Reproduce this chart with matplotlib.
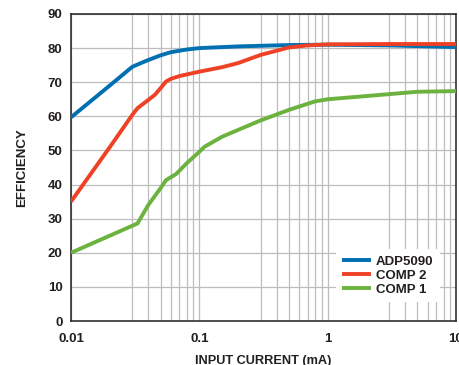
import matplotlib
matplotlib.use("Agg")
import matplotlib.pyplot as plt
import numpy as np
from matplotlib.ticker import FixedLocator, NullFormatter

plt.rcParams['font.family'] = ['Liberation Sans', 'DejaVu Sans']
plt.rcParams['font.weight'] = 'bold'

# Data (input current in mA, efficiency in %)
adp_x = [0.01, 0.02, 0.03, 0.035, 0.04, 0.05, 0.06, 0.08, 0.1, 0.2, 0.5, 1, 3, 10]
adp_y = [59.7, 69.0, 74.5, 75.6, 76.5, 77.9, 78.8, 79.6, 80.0, 80.5, 80.9, 81.0, 80.8, 80.3]

comp2_x = [0.01, 0.02, 0.03, 0.033, 0.04, 0.045, 0.05, 0.055, 0.06, 0.07, 0.1, 0.15, 0.2, 0.3, 0.5, 0.7, 1, 3, 10]
comp2_y = [35.0, 50.9, 60.4, 62.4, 64.8, 66.3, 68.3, 70.2, 71.0, 71.8, 73.1, 74.4, 75.6, 78.0, 80.2, 80.8, 81.1, 81.2, 81.2]

comp1_x = [0.01, 0.033, 0.04, 0.05, 0.055, 0.066, 0.08, 0.1, 0.11, 0.15, 0.2, 0.3, 0.5, 0.8, 1, 3, 5, 10]
comp1_y = [20.0, 28.6, 34.0, 39.0, 41.3, 43.1, 46.3, 49.6, 51.1, 54.0, 56.0, 58.8, 61.9, 64.4, 65.0, 66.5, 67.2, 67.4]

series_names = ["ADP5090", "COMP 2", "COMP 1"]
series_colors = ["#0070B2", "#EF4125", "#6BB23F"]

x_major = [0.01, 0.1, 1, 10]
x_major_labels = ["0.01", "0.1", "1", "10"]
x_minor = [m * d for d in [0.01, 0.1, 1] for m in [3, 4, 5, 6, 7, 8, 9]]
y_ticks = list(range(0, 91, 10))

fig = plt.figure(figsize=(4.6, 3.65), dpi=100)
ax = fig.add_axes([71/460, 44/365, (456-71)/460, (321-14)/365])

for xs, ys, name, col in zip([adp_x, comp2_x, comp1_x], [adp_y, comp2_y, comp1_y],
                             series_names, series_colors):
    ax.plot(xs, ys, color=col, lw=2.8, label=name, solid_capstyle='butt',
            solid_joinstyle='round', zorder=3)

ax.set_xscale('log')
ax.set_xlim(0.01, 10)
ax.set_ylim(0, 90)
ax.xaxis.set_major_locator(FixedLocator(x_major))
ax.set_xticklabels(x_major_labels)
ax.xaxis.set_minor_locator(FixedLocator(x_minor))
ax.xaxis.set_minor_formatter(NullFormatter())
ax.set_yticks(y_ticks)

ax.grid(True, which='major', color='#BDBDBD', lw=0.9, zorder=0)
ax.grid(True, which='minor', axis='x', color='#BDBDBD', lw=0.9, zorder=0)
ax.tick_params(axis='both', which='both', length=0, labelsize=9.5)
ax.tick_params(axis='x', pad=9)
ax.tick_params(axis='y', pad=6)
for lab in ax.get_xticklabels() + ax.get_yticklabels():
    lab.set_fontweight('bold')
    lab.set_color('#231F20')

for sp in ax.spines.values():
    sp.set_color('#231F20')
    sp.set_linewidth(1.1)

ax.set_xlabel("INPUT CURRENT (mA)", fontsize=9.2, fontweight='bold', labelpad=6.5, color='#231F20')
ax.set_ylabel("EFFICIENCY", fontsize=9.5, fontweight='bold', labelpad=14, color='#231F20')

leg = ax.legend(loc='lower right', bbox_to_anchor=(0.976, 0.04), frameon=True, fancybox=False,
                edgecolor='none', facecolor='white', framealpha=1, fontsize=9.5,
                handlelength=2.2, handletextpad=0.35, borderpad=0.5, labelspacing=0.12)
for t in leg.get_texts():
    t.set_fontweight('bold')
    t.set_color('#231F20')

fig.savefig("out.png", dpi=100)
